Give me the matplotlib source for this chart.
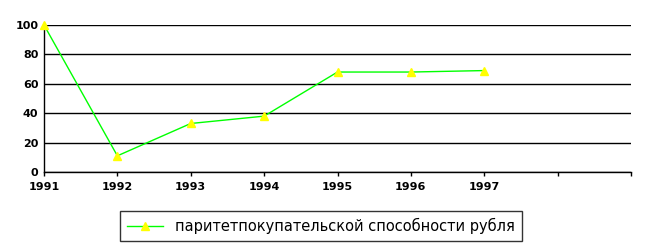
import matplotlib
matplotlib.use("Agg")
import matplotlib.pyplot as plt

years = [1991, 1992, 1993, 1994, 1995, 1996, 1997]
values = [100, 11, 33, 38, 68, 68, 69]
tick_years = [1991, 1992, 1993, 1994, 1995, 1996, 1997, 1998, 1999]
tick_labels = ["1991", "1992", "1993", "1994", "1995", "1996", "1997", "", ""]
series_label = "паритетпокупательской способности рубля"

fig = plt.figure(figsize=(6.54, 2.49), dpi=100)
ax = fig.add_axes([44/654, 1-172/249, (631-44)/654, (172-25)/249])

ax.set_xlim(1991, 1999)
ax.set_ylim(0, 100)
ax.set_yticks([0, 20, 40, 60, 80, 100])
ax.set_xticks(tick_years)
ax.set_xticklabels(tick_labels)
ax.yaxis.grid(True, color="black", linewidth=1.0)
ax.set_axisbelow(True)
for s in ["top", "right"]:
    ax.spines[s].set_visible(False)
for s in ["left", "bottom"]:
    ax.spines[s].set_linewidth(1.0)
ax.tick_params(axis="x", length=3, width=1, labelsize=8, pad=4)
ax.tick_params(axis="y", length=0, labelsize=8, pad=4)
for lbl in ax.get_xticklabels() + ax.get_yticklabels():
    lbl.set_fontweight("bold")

ax.plot(years, values, color="#00ff00", linewidth=1.0, marker="^",
        markersize=6, markerfacecolor="#ffff00", markeredgecolor="#ffff00",
        label=series_label, clip_on=False, zorder=3)

leg = fig.legend(loc="center", bbox_to_anchor=(321/654, 1-226/249),
                 frameon=True, fancybox=False, edgecolor="black",
                 fontsize=10.5, handlelength=2.5, borderpad=0.5)
leg.get_frame().set_linewidth(1.0)

fig.savefig("out.png", dpi=100)
